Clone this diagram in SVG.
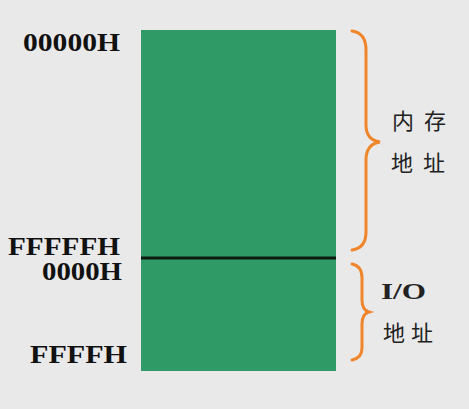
<svg xmlns="http://www.w3.org/2000/svg" width="469" height="409" viewBox="0 0 469 409">
<style>
.addr{font-family:"Liberation Serif",serif;font-weight:bold;font-size:25px;fill:#111}
.cn{font-family:"Noto Sans CJK SC",sans-serif;font-size:22px;fill:#222}
.io{font-family:"Liberation Serif",serif;font-weight:bold;font-size:23px;fill:#222}
.brace{fill:none;stroke:#f0862c;stroke-width:3;stroke-linecap:round}
</style>
<rect width="469" height="409" fill="#e9e9e9"/>
<g id="memory">
<rect x="141" y="30" width="195" height="341" fill="#2f9a66"/>
<line x1="141" y1="258" x2="336" y2="258" stroke="#0e1a12" stroke-width="3"/>
</g>
<g id="labels">
<text class="addr" x="23" y="51" textLength="97" lengthAdjust="spacingAndGlyphs">00000H</text>
<text class="addr" x="8" y="255" textLength="112" lengthAdjust="spacingAndGlyphs">FFFFFH</text>
<text class="addr" x="42" y="280" textLength="80" lengthAdjust="spacingAndGlyphs">0000H</text>
<text class="addr" x="30" y="363" textLength="97" lengthAdjust="spacingAndGlyphs">FFFFH</text>
</g>
<g id="braces">
<path class="brace" d="M352,31 Q366,33 366,50 L366,125 Q366,140 380,142 Q366,144 366,160 L366,232 Q366,248 352,250"/>
<path class="brace" d="M352,264 Q362,266 362,278 L362,300 Q362,310 369,312 Q362,314 362,324 L362,348 Q362,358 352,360"/>
</g>
<g id="text-mem">
<text class="cn" x="392" y="129" textLength="54" lengthAdjust="spacing">内 存</text>
<text class="cn" x="391" y="171" textLength="54" lengthAdjust="spacing">地址</text>
</g>
<g id="text-io">
<text class="io" x="381" y="299" textLength="45" lengthAdjust="spacingAndGlyphs">I/O</text>
<text class="cn" x="383" y="341" textLength="50" lengthAdjust="spacing">地址</text>
</g>
</svg>
